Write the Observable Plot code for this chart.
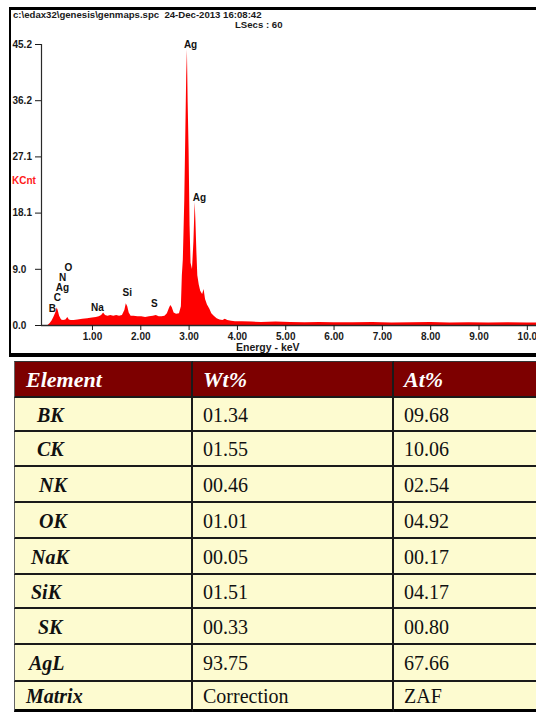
<!DOCTYPE html>
<html>
<head>
<meta charset="utf-8">
<script src="https://cdn.jsdelivr.net/npm/d3@7"></script>
<script src="https://cdn.jsdelivr.net/npm/@observablehq/plot@0.6"></script>
<style>
  html, body { margin:0; padding:0; background:#fff; }
  #wrap { position:relative; width:536px; height:713px; overflow:hidden; background:#fff; }
  .hdr { position:absolute; font-family:"Liberation Sans", Arial, sans-serif; font-weight:bold; color:#1a1a1a; white-space:pre; line-height:10px; }
  .cell { position:absolute; box-sizing:border-box; display:flex; align-items:center; white-space:pre; }
</style>
</head>
<body>
<div id="wrap">
  <div id="box" style="position:absolute;left:9px;top:7px;width:540px;height:350px;box-sizing:border-box;border-top:3px solid #000;border-left:2px solid #000;border-bottom:4px solid #000;"></div>
  <div class="hdr" style="left:13px;top:10px;font-size:9.6px;">c:\edax32\genesis\genmaps.spc  24-Dec-2013 16:08:42</div>
  <div class="hdr" style="left:235px;top:20px;font-size:9.6px;">LSecs : 60</div>
  <div id="chart" style="position:absolute;left:10px;top:8px;"></div>
  <div class="hdr" style="left:12px;top:176px;font-size:10px;color:#ff1a1a;">KCnt</div>
  <div class="hdr" style="left:236px;top:342px;font-size:10.5px;">Energy - keV</div>
  <div id="table"></div>
</div>
<script>
// ---- Spectrum data (energy in keV, counts in KCnt) ----
const energies = [0.08,0.12,0.16,0.20,0.24,0.27,0.29,0.32,0.36,0.40,0.45,0.49,0.52,0.56,0.62,0.70,0.80,0.90,1.00,1.08,
  1.14,1.19,1.23,1.27,1.32,1.38,1.44,1.50,1.56,1.62,1.67,1.70,1.73,1.76,1.80,1.86,1.94,2.02,2.10,2.18,
  2.26,2.32,2.38,2.44,2.50,2.55,2.59,2.62,2.65,2.69,2.74,2.80,2.84,2.86,2.88,2.91,2.93,2.95,2.965,2.98,3.00,
  3.02,3.04,3.07,3.10,3.125,3.14,3.16,3.18,3.21,3.24,3.28,3.31,3.34,3.38,3.43,3.47,3.52,3.58,3.64,3.70,
  3.75,3.80,3.88,3.96,4.10,4.30,4.50,4.80,5.10,5.40,5.70,6.00,6.40,6.80,7.20,7.60,8.00,8.40,8.80,9.20,
  9.60,10.00,10.19];
const counts = [0,0.3,0.7,1.3,2.0,2.8,2.4,1.5,0.9,0.8,0.9,1.3,0.9,0.8,0.8,0.9,1.0,1.1,1.2,1.3,
  1.4,1.6,2.0,1.6,1.5,1.6,1.5,1.6,1.5,1.6,2.4,3.5,3.0,2.0,1.5,1.5,1.4,1.4,1.3,1.4,
  1.5,1.6,1.4,1.4,1.5,1.9,2.7,3.2,2.9,2.0,1.8,1.9,3.0,8.0,10.5,20,30,40,44.3,36,28,
  16,10,9.0,13.5,19.8,17,12,8.0,6.5,5.5,5.0,5.8,4.2,3.3,2.6,1.9,1.5,1.1,0.9,0.8,
  1.0,0.8,0.7,0.6,0.6,0.55,0.5,0.55,0.5,0.45,0.5,0.45,0.45,0.5,0.4,0.45,0.5,0.4,0.45,0.4,
  0.45,0.4,0.4];

// Peak labels
const peakNames  = ["Ag","Ag","O","N","Ag","C","B","Na","Si","S"];
const peakEnergy = [3.03,3.215,0.50,0.38,0.38,0.275,0.17,1.10,1.72,2.28];
const peakCount  = [45.2,20.6,9.33,7.72,6.11,4.5,2.73,2.9,5.31,3.54];

// Axis ticks
const xTicks = [1,2,3,4,5,6,7,8,9,10];
const xTickLabels = ["1.00","2.00","3.00","4.00","5.00","6.00","7.00","8.00","9.00","10.0"];
const yTicks = [0,9.04,18.08,27.12,36.16,45.2];
const yTickLabels = ["0.0","9.0","18.1","27.1","36.2","45.2"];

// Table data
const tableHeader = ["Element","Wt%","At%"];
const elements = ["BK","CK","NK","OK","NaK","SiK","SK","AgL","Matrix"];
const wtPct = ["01.34","01.55","00.46","01.01","00.05","01.51","00.33","93.75","Correction"];
const atPct = ["09.68","10.06","02.54","04.92","00.17","04.17","00.80","67.66","ZAF"];

const spectrum = energies.map((e,i) => ({e, c: counts[i]}));
const peaks = peakNames.map((t,i) => ({t, e: peakEnergy[i], c: peakCount[i]}));

const chart = Plot.plot({
  width: 526, height: 345,
  marginTop: 36, marginBottom: 28, marginLeft: 31, marginRight: 0,
  x: {domain: [-0.055, 10.19]},
  y: {domain: [0, 45.2]},
  style: {fontFamily: "'Liberation Sans', Arial, sans-serif", fontWeight: "bold", fontSize: "10px", color: "#1a1a1a", background: "transparent", overflow: "visible"},
  marks: [
    Plot.areaY(spectrum, {x: "e", y: "c", fill: "#ff0000", curve: "linear"}),
    Plot.ruleY([0], {stroke: "#2a2a2a", strokeWidth: 1.3}),
    Plot.ruleX([-0.055], {y1: 0, y2: 45.2, stroke: "#2a2a2a", strokeWidth: 1.2}),
    Plot.axisY({ticks: yTicks, tickFormat: d => yTickLabels[yTicks.indexOf(d)], tickSize: 6, tickPadding: 23, textAnchor: "start", label: null}),
    Plot.axisX({ticks: xTicks, tickFormat: d => xTickLabels[xTicks.indexOf(d)], tickSize: 5, tickPadding: 2, label: null}),
    Plot.text(peaks, {x: "e", y: "c", text: "t", fill: "#111", fontSize: 10})
  ]
});
document.getElementById("chart").appendChild(chart);

// ---- Table ----
const colX = [14, 193, 394, 560];
const rowY = [361, 398, 432, 467, 503, 539, 575, 609, 645, 682, 712];
const elemIndent = [22, 22, 24, 24, 16, 16, 23, 14, 11];
const tbl = document.getElementById("table");
const rows = [tableHeader, ...elements.map((el,i) => [el, wtPct[i], atPct[i]])];
rows.forEach((row, r) => {
  row.forEach((txt, c) => {
    const d = document.createElement("div");
    d.className = "cell";
    d.style.left = colX[c] + "px";
    d.style.top = rowY[r] + "px";
    d.style.width = (colX[c+1] - colX[c]) + "px";
    d.style.height = (rowY[r+1] - rowY[r]) + "px";
    d.style.borderTop = r === 0 ? "1px solid #333" : "none";
    d.style.borderBottom = r === rows.length - 1 ? "3px solid #000" : "2px solid #1a1a1a";
    d.style.borderLeft = c === 0 ? "1.5px solid #666" : "none";
    d.style.borderRight = "2px solid #1a1a1a";
    d.style.fontFamily = "'Liberation Serif', 'Times New Roman', serif";
    if (r === 0) {
      d.style.background = "#7d0000";
      d.style.color = "#fff";
      d.style.fontWeight = "bold";
      d.style.fontStyle = "italic";
      d.style.fontSize = "22px";
      d.style.paddingLeft = (c === 0 ? 11 : 10) + "px";
      d.style.paddingTop = "1px";
    } else {
      d.style.background = "#fdfbd0";
      d.style.color = "#111";
      d.style.fontSize = "20px";
      if (c === 0) {
        d.style.fontWeight = "bold";
        d.style.fontStyle = "italic";
        d.style.paddingLeft = elemIndent[r-1] + "px";
      } else {
        d.style.paddingLeft = "10px";
      }
      d.style.paddingTop = "2px";
    }
    d.textContent = txt;
    tbl.appendChild(d);
  });
});
</script>
</body>
</html>
